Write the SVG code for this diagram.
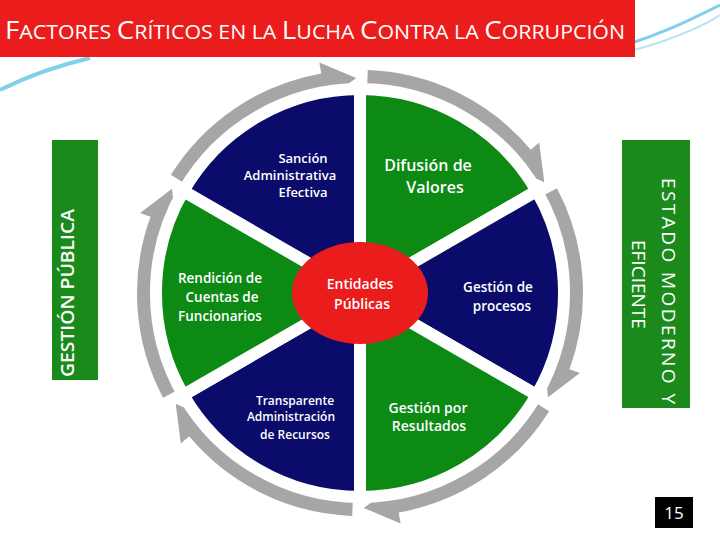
<svg xmlns="http://www.w3.org/2000/svg" width="720" height="540" viewBox="0 0 720 540">
<style>
.t{font-family:"Open Sans","Noto Sans",sans-serif;fill:#fff;font-weight:600;text-anchor:middle}
.g{fill:#0c8a14}.b{fill:#0b0b6b}.arr{fill:#a6a6a6}
</style>
<defs>
<path id="arc" class="arr" d="M367.8,70.1 A223,223 0 0 1 530.8,149.7 L539.2,142.6 L544.3,182.3 L510.1,167 L518.6,159.9 A207,207 0 0 0 367.2,86.1 Z"/>
</defs>
<rect width="720" height="540" fill="#fff"/>
<path d="M600,52 C650,40 690,20 720,5" stroke="#7fd0ea" stroke-width="3" fill="none"/>
<path d="M610,56 C660,45 700,28 720,15" stroke="#b5e4f3" stroke-width="2" fill="none"/>
<path d="M0,90 C30,75 60,65 90,58" stroke="#7fd0ea" stroke-width="4" fill="none"/>
<g id="title">
<rect x="0" y="0" width="635" height="57" fill="#ea1c1c"/>
<text x="5" y="39" font-family="Open Sans,Noto Sans,sans-serif" font-size="26" fill="#fff" textLength="620" lengthAdjust="spacingAndGlyphs">F<tspan font-size="20">ACTORES </tspan>C<tspan font-size="20">RÍTICOS EN LA </tspan>L<tspan font-size="20">UCHA </tspan>C<tspan font-size="20">ONTRA LA </tspan>C<tspan font-size="20">ORRUPCIÓN</tspan></text>
</g>
<g id="arrows">
<use href="#arc"/>
<use href="#arc" transform="rotate(60 360 293)"/>
<use href="#arc" transform="rotate(120 360 293)"/>
<use href="#arc" transform="rotate(180 360 293)"/>
<use href="#arc" transform="rotate(240 360 293)"/>
<use href="#arc" transform="rotate(300 360 293)"/>
</g>
<g id="slices" stroke="#fff" stroke-width="12" stroke-linejoin="miter">
<path class="g" d="M360,293 L360,89 A204,204 0 0 1 536.7,191 Z"/>
<path class="b" d="M360,293 L536.7,191 A204,204 0 0 1 536.7,395 Z"/>
<path class="g" d="M360,293 L536.7,395 A204,204 0 0 1 360,497 Z"/>
<path class="b" d="M360,293 L360,497 A204,204 0 0 1 183.3,395 Z"/>
<path class="g" d="M360,293 L183.3,395 A204,204 0 0 1 183.3,191 Z"/>
<path class="b" d="M360,293 L183.3,191 A204,204 0 0 1 360,89 Z"/>
</g>
<g id="center"><ellipse cx="360" cy="293" rx="68" ry="51" fill="#ea1c1c"/>
<text class="t" font-size="14"><tspan x="360" y="289">Entidades</tspan><tspan x="362" y="309">Públicas</tspan></text></g>
<g id="n1"><text class="t" font-size="13"><tspan x="303" y="163">Sanción</tspan><tspan x="290" y="180">Administrativa</tspan><tspan x="303" y="197">Efectiva</tspan></text></g>
<g id="n2"><text class="t" font-size="16"><tspan x="428" y="171">Difusión de</tspan><tspan x="435" y="193">Valores</tspan></text></g>
<g id="n3"><text class="t" font-size="13.5"><tspan x="220" y="283">Rendición de</tspan><tspan x="222" y="302">Cuentas de</tspan><tspan x="220" y="321">Funcionarios</tspan></text></g>
<g id="n4"><text class="t" font-size="13.5"><tspan x="498" y="292">Gestión de</tspan><tspan x="502" y="311">procesos</tspan></text></g>
<g id="n5"><text class="t" font-size="12"><tspan x="295" y="405">Transparente</tspan><tspan x="291" y="421">Administración</tspan><tspan x="295" y="439">de Recursos</tspan></text></g>
<g id="n6"><text class="t" font-size="14"><tspan x="428" y="413">Gestión por</tspan><tspan x="429" y="431">Resultados</tspan></text></g>
<g id="left"><rect x="52" y="140" width="46" height="240" fill="#1a8a1a"/>
<text class="t" font-size="18" font-weight="500" transform="translate(74 293) rotate(-90)" textLength="168" lengthAdjust="spacingAndGlyphs">GESTIÓN PÚBLICA</text></g>
<g id="right"><rect x="622" y="140" width="68" height="268" fill="#1a8a1a"/>
<text font-family="Open Sans,Noto Sans,sans-serif" fill="#fff" font-size="19" font-weight="500" transform="translate(650 0) rotate(90)"><tspan x="178" y="-12" textLength="226" lengthAdjust="spacing">ESTADO MODERNO Y</tspan><tspan x="240" y="18">EFICIENTE</tspan></text></g>
<g id="page"><rect x="655" y="497" width="38" height="31" fill="#000"/>
<text x="674" y="519" font-family="Open Sans,Noto Sans,sans-serif" font-size="17" fill="#fff" text-anchor="middle">15</text></g>
</svg>
